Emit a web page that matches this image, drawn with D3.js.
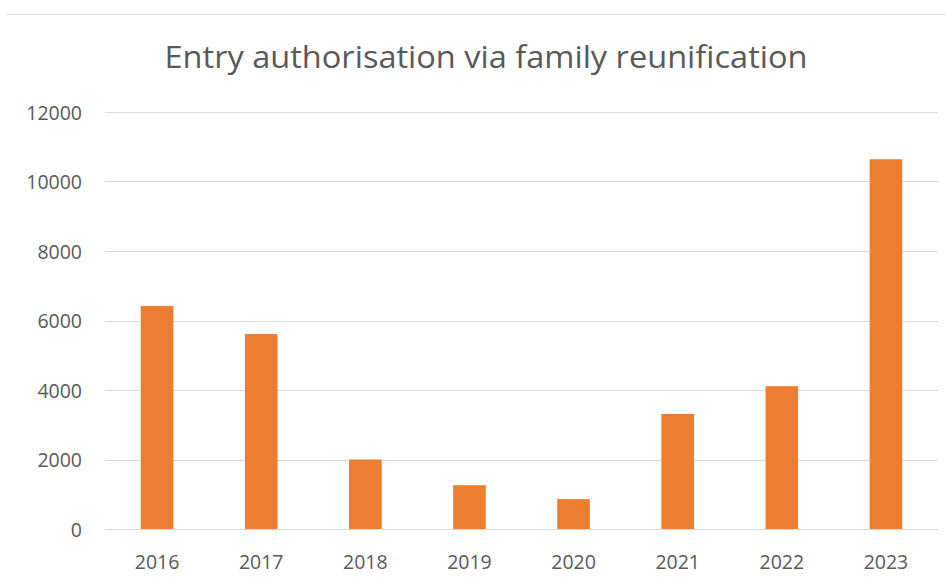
<!DOCTYPE html>
<html>
<head>
<meta charset="utf-8">
<script src="https://cdn.jsdelivr.net/npm/d3@7"></script>
<style>
  body { margin: 0; background: #fff; }
  text { font-family: "Open Sans", "Liberation Sans", sans-serif; fill: #595959; }
</style>
</head>
<body>
<svg width="946" height="585"></svg>
<script>
// data
var years = ["2016", "2017", "2018", "2019", "2020", "2021", "2022", "2023"];
var counts = [6420, 5610, 2000, 1260, 860, 3310, 4110, 10640];
var yTicks = [0, 2000, 4000, 6000, 8000, 10000, 12000];
var title = "Entry authorisation via family reunification";

var svg = d3.select("svg"),
    margin = {top: 112, right: 8, bottom: 56, left: 105},
    width = +svg.attr("width") - margin.left - margin.right,
    height = +svg.attr("height") - margin.top - margin.bottom;

// chart area border (only top edge is visible in the crop)
svg.append("line")
   .attr("x1", 6).attr("x2", 946)
   .attr("y1", 14.5).attr("y2", 14.5)
   .attr("stroke", "#e3e3e3");

svg.append("text")
   .attr("x", 486)
   .attr("y", 68)
   .attr("text-anchor", "middle")
   .attr("font-size", 31)
   .attr("textLength", 643)
   .attr("lengthAdjust", "spacingAndGlyphs")
   .text(title);

var g = svg.append("g").attr("transform", "translate(" + margin.left + "," + margin.top + ")");

var x = d3.scaleBand()
          .domain(years)
          .range([0, width])
          .paddingInner(0.687)
          .paddingOuter(0.3435);

var y = d3.scaleLinear()
          .domain([0, 12000])
          .range([height, 0]);

// gridlines
g.append("g")
 .selectAll("line")
 .data(yTicks)
 .enter().append("line")
 .attr("x1", 0).attr("x2", width)
 .attr("y1", function(d) { return Math.round(y(d)) + 0.5; })
 .attr("y2", function(d) { return Math.round(y(d)) + 0.5; })
 .attr("stroke", "#d9d9d9")
 .attr("stroke-width", 1.2);

// y labels
var yAxis = g.append("g")
             .call(d3.axisLeft(y).tickValues(yTicks).tickSize(0).tickPadding(0).tickFormat(d3.format("d")));
yAxis.select(".domain").remove();
yAxis.attr("font-family", null).attr("font-size", null);
yAxis.selectAll(".tick text")
     .attr("x", -23)
     .attr("dy", "0.36em")
     .attr("text-anchor", "end")
     .attr("font-size", 19.5)
     .attr("fill", null);

// bars
g.selectAll(".bar")
 .data(counts)
 .enter().append("rect")
 .attr("class", "bar")
 .attr("x", function(d, i) { return x(years[i]); })
 .attr("y", function(d) { return y(d); })
 .attr("width", x.bandwidth())
 .attr("height", function(d) { return height - y(d); })
 .attr("fill", "#ed7d31");

// x labels
var xAxis = g.append("g")
             .attr("transform", "translate(0," + height + ")")
             .call(d3.axisBottom(x).tickSize(0));
xAxis.select(".domain").remove();
xAxis.attr("font-family", null).attr("font-size", null);
xAxis.selectAll(".tick text")
     .attr("y", 40)
     .attr("dy", 0)
     .attr("font-size", 19.5)
     .attr("fill", null);
</script>
</body>
</html>
